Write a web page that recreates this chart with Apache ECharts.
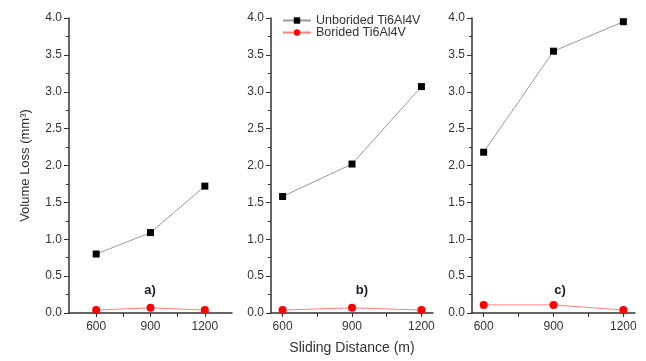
<!DOCTYPE html>
<html>
<head>
<meta charset="utf-8">
<script src="https://cdn.jsdelivr.net/npm/echarts@6/dist/echarts.min.js"></script>
<style>html,body{margin:0;padding:0;background:#fff;}#main{width:646px;height:361px;}</style>
</head>
<body>
<div id="main"></div>
<script>
const distances = [600, 900, 1200];
const xTickLabels = [600, 900, 1200];
const xTicks = [600, 750, 900, 1050, 1200];
const unboridedA = [0.80, 1.09, 1.72];
const boridedA = [0.04, 0.07, 0.04];
const unboridedB = [1.58, 2.02, 3.07];
const boridedB = [0.04, 0.07, 0.04];
const unboridedC = [2.18, 3.55, 3.95];
const boridedC = [0.11, 0.11, 0.04];
const panelLabels = ['a)', 'b)', 'c)'];
const seriesNames = ['Unborided Ti6Al4V', 'Borided Ti6Al4V'];

const FONT = 'Liberation Sans, Arial, sans-serif';
const axisColor = '#333';
const chart = echarts.init(document.getElementById('main'));

const grids = [
  {left: 69, top: 18, width: 163, height: 295},
  {left: 271, top: 18, width: 162, height: 295},
  {left: 472, top: 18, width: 163, height: 295}
];
const xRanges = [[450, 1350], [550, 1250], [550, 1250]];

function pairs(vals) { return distances.map((d, i) => [d, vals[i]]); }

const xAxes = grids.map((g, i) => ({
  type: 'value', gridIndex: i, min: xRanges[i][0], max: xRanges[i][1],
  splitLine: {show: false},
  axisLine: {show: true, onZero: false, lineStyle: {color: axisColor, width: 1.5}},
  axisTick: {show: true, customValues: xTicks, length: 4, lineStyle: {color: axisColor}},
  axisLabel: {customValues: xTickLabels, color: '#333', fontSize: 12, fontFamily: FONT, margin: 8, formatter: v => String(v)},
  name: i === 1 ? 'Sliding Distance (m)' : '',
  nameLocation: 'middle', nameGap: 28,
  nameTextStyle: {color: '#333', fontSize: 14, fontFamily: FONT}
}));
const yAxes = grids.map((g, i) => ({
  type: 'value', gridIndex: i, min: 0, max: 4, interval: 0.5,
  splitLine: {show: false},
  axisLine: {show: true, lineStyle: {color: axisColor, width: 1.5}},
  axisTick: {show: true, length: 5, lineStyle: {color: axisColor}},
  minorTick: {show: true, splitNumber: 2, length: 3, lineStyle: {color: axisColor}},
  axisLabel: {color: '#333', fontSize: 12, fontFamily: FONT, margin: 7, formatter: v => v.toFixed(1)},
  name: i === 0 ? 'Volume Loss (mm³)' : '',
  nameLocation: 'middle', nameGap: 37, nameRotate: 90,
  nameTextStyle: {color: '#333', fontSize: 13, fontFamily: FONT}
}));

const data = [[unboridedA, boridedA], [unboridedB, boridedB], [unboridedC, boridedC]];
const series = [];
data.forEach((pair, i) => {
  series.push({
    name: seriesNames[0], type: 'line', xAxisIndex: i, yAxisIndex: i,
    data: pairs(pair[0]), symbol: 'rect', symbolSize: 7,
    lineStyle: {color: '#9a9a9a', width: 1},
    itemStyle: {color: '#000'}
  });
  series.push({
    name: seriesNames[1], type: 'line', xAxisIndex: i, yAxisIndex: i,
    data: pairs(pair[1]), symbol: 'circle', symbolSize: 8,
    lineStyle: {color: '#ff8080', width: 1},
    itemStyle: {color: '#ff0000'}
  });
});

const labelPos = [[150, 290], [362, 290], [560, 290]];
const graphic = panelLabels.map((t, i) => ({
  type: 'text', x: labelPos[i][0], y: labelPos[i][1],
  style: {text: t, fill: '#1a1a2a', font: 'bold 13px ' + FONT, textAlign: 'center', textVerticalAlign: 'middle'}
}));

chart.setOption({
  backgroundColor: '#fff',
  animation: false,
  grid: grids,
  xAxis: xAxes,
  yAxis: yAxes,
  legend: {
    data: seriesNames, orient: 'vertical', left: 277, top: 9,
    itemWidth: 28, itemHeight: 8, itemGap: -1,
    textStyle: {color: '#333', fontSize: 12.5, lineHeight: 12, fontFamily: FONT}
  },
  series: series,
  graphic: graphic
});
</script>
</body>
</html>
